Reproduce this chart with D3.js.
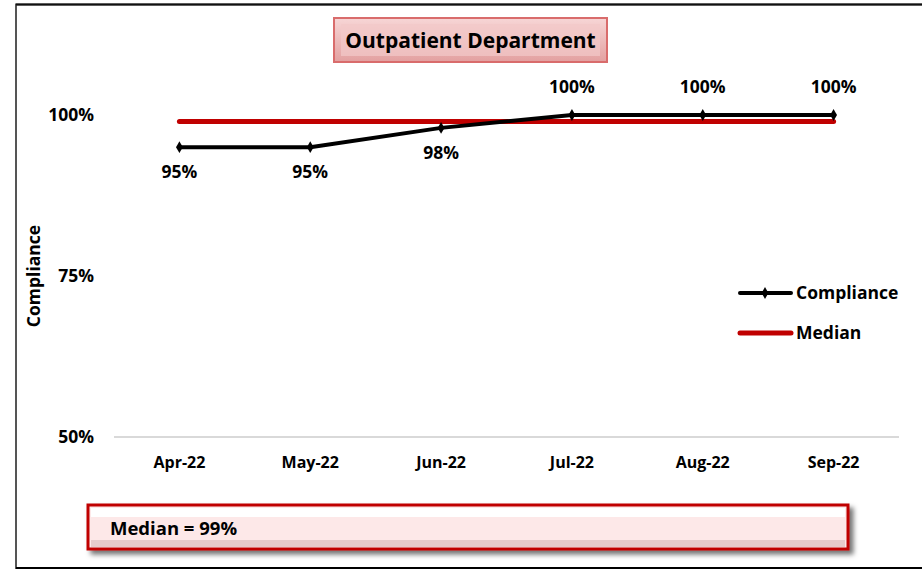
<!DOCTYPE html>
<html lang="en">
<head>
<meta charset="UTF-8">
<title>Outpatient Department</title>
<script src="https://d3js.org/d3.v7.min.js"></script>
<style>
  body { margin: 0; background: #fff; }
  text { font-family: "Open Sans", "Noto Sans", sans-serif; font-weight: bold; fill: #000; }
</style>
</head>
<body>
<svg width="922" height="569"></svg>
<script>
const months = ["Apr-22", "May-22", "Jun-22", "Jul-22", "Aug-22", "Sep-22"];
const compliance = [95, 95, 98, 100, 100, 100];
const median = [99, 99, 99, 99, 99, 99];
const yTicks = [50, 75, 100];
const seriesNames = ["Compliance", "Median"];

const svg = d3.select("svg");

// gradients for the boxes
const defs = svg.append("defs");
const tg = defs.append("linearGradient").attr("id", "titleFill").attr("x1", 0).attr("y1", 0).attr("x2", 0).attr("y2", 1);
tg.append("stop").attr("offset", "0%").attr("stop-color", "#f7d6d6");
tg.append("stop").attr("offset", "100%").attr("stop-color", "#e3a0a0");
const sh = defs.append("filter").attr("id", "shadow").attr("x", "-5%").attr("y", "-20%").attr("width", "115%").attr("height", "160%");
sh.append("feDropShadow").attr("dx", 4).attr("dy", 4).attr("stdDeviation", 2.5).attr("flood-color", "#000").attr("flood-opacity", 0.55);

// outer border
svg.append("rect").attr("x", 16).attr("y", 4.5).attr("width", 920).attr("height", 563.5)
  .attr("fill", "none").attr("stroke", "#555").attr("stroke-width", 2);
svg.append("line").attr("x1", 16).attr("x2", 922).attr("y1", 4.5).attr("y2", 4.5).attr("stroke", "#111").attr("stroke-width", 2);
svg.append("line").attr("x1", 16).attr("x2", 922).attr("y1", 568).attr("y2", 568).attr("stroke", "#000").attr("stroke-width", 2);

const x = d3.scaleBand().domain(months).range([114, 899]);
const y = d3.scaleLinear().domain([50, 100]).range([437, 115]);
const cx = d => x(d) + x.bandwidth() / 2;

// x axis line
svg.append("line").attr("x1", 114).attr("x2", 899).attr("y1", y(50)).attr("y2", y(50))
  .attr("stroke", "#d9d9d9").attr("stroke-width", 2);

// x labels
svg.append("g").selectAll("text").data(months).join("text")
  .attr("x", d => cx(d)).attr("y", 468).attr("text-anchor", "middle")
  .attr("font-size", 16).text(d => d);

// y labels
svg.append("g").selectAll("text").data(yTicks).join("text")
  .attr("x", 94).attr("y", d => y(d)).attr("dy", "0.35em").attr("text-anchor", "end")
  .attr("font-size", 17.5).text(d => d + "%");

svg.append("text").attr("transform", `translate(40,${y(75)}) rotate(-90)`)
  .attr("text-anchor", "middle").attr("font-size", 17.5).text("Compliance");

// median line
const line = d3.line().x((d, i) => cx(months[i])).y(d => y(d));
svg.append("path").datum(median).attr("d", line).attr("fill", "none")
  .attr("stroke", "#c00000").attr("stroke-width", 5).attr("stroke-linecap", "round");

// compliance line
svg.append("path").datum(compliance).attr("d", line).attr("fill", "none")
  .attr("stroke", "#000").attr("stroke-width", 4).attr("stroke-linejoin", "round");
const diamond = d3.symbol().type(d3.symbolDiamond).size(40);
svg.append("g").selectAll("path").data(compliance).join("path")
  .attr("transform", (d, i) => `translate(${cx(months[i])},${y(d)})`)
  .attr("d", diamond).attr("fill", "#000");

// data labels
svg.append("g").selectAll("text").data(compliance).join("text")
  .attr("x", (d, i) => cx(months[i]))
  .attr("y", d => d >= 100 ? y(d) - 22 : y(d) + 31)
  .attr("text-anchor", "middle").attr("font-size", 17.5).text(d => d + "%");

// legend
const leg = svg.append("g");
seriesNames.forEach((s, i) => {
  const ly = 293 + i * 40;
  leg.append("line").attr("x1", 740).attr("x2", 791).attr("y1", ly).attr("y2", ly)
    .attr("stroke", i === 0 ? "#000" : "#c00000").attr("stroke-width", i === 0 ? 4 : 5)
    .attr("stroke-linecap", "round");
  if (i === 0) leg.append("path").attr("transform", `translate(765,${ly})`).attr("d", diamond).attr("fill", "#000");
  leg.append("text").attr("x", 796).attr("y", ly).attr("dy", "0.35em").attr("font-size", 17.5).text(s);
});

// title box
svg.append("rect").attr("x", 334).attr("y", 18).attr("width", 273).attr("height", 44)
  .attr("fill", "url(#titleFill)").attr("stroke", "#d96c6c").attr("stroke-width", 2);
svg.append("rect").attr("x", 341).attr("y", 24).attr("width", 259).attr("height", 32)
  .attr("fill", "#f2c9c9").attr("opacity", 0.7);
svg.append("text").attr("x", 470.5).attr("y", 41).attr("dy", "0.35em").attr("text-anchor", "middle")
  .attr("font-size", 21).text("Outpatient Department");

// median box
svg.append("rect").attr("x", 88).attr("y", 505).attr("width", 760).attr("height", 44)
  .attr("fill", "#fde8e8").attr("stroke", "#c00000").attr("stroke-width", 3).attr("filter", "url(#shadow)");
svg.append("rect").attr("x", 91).attr("y", 508).attr("width", 754).attr("height", 9).attr("fill", "#fff");
svg.append("rect").attr("x", 91).attr("y", 540).attr("width", 754).attr("height", 7).attr("fill", "#d9b8b8").attr("opacity", 0.6);
svg.append("text").attr("x", 110).attr("y", 529).attr("dy", "0.35em")
  .attr("font-size", 18.5).text("Median = " + median[0] + "%");
</script>
</body>
</html>
